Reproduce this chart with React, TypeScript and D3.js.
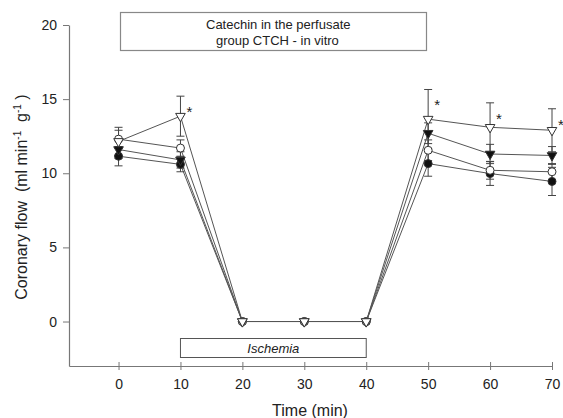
import { useEffect, useRef } from 'react';
import * as d3 from 'd3';

// time points (min)
const times = [0, 10, 20, 30, 40, 50, 60, 70];

// series values (ml min-1 g-1) and SEM
const openTri = [12.15, 13.85, 0, 0, 0, 13.65, 13.1, 12.9];
const openTriErr = [0.95, 1.35, 0, 0, 0, 2.0, 1.65, 1.45];
const filledTri = [11.6, 10.9, 0, 0, 0, 12.7, 11.3, 11.2];
const filledTriErr = [0.6, 0.55, 0, 0, 0, 0.7, 0.65, 0.6];
const openCirc = [12.3, 11.7, 0, 0, 0, 11.55, 10.2, 10.1];
const openCircErr = [0.6, 0.55, 0, 0, 0, 0.7, 0.6, 0.55];
const filledCirc = [11.15, 10.6, 0, 0, 0, 10.65, 9.98, 9.45];
const filledCircErr = [0.65, 0.5, 0, 0, 0, 0.85, 0.8, 0.95];

// asterisks over open triangle series (indices into times)
const starIdx = [1, 5, 6, 7];

const yTicks = [0, 5, 10, 15, 20];
const xTicks = [0, 10, 20, 30, 40, 50, 60, 70];

type Marker = 'triOpen' | 'triFilled' | 'circOpen' | 'circFilled';

const series: { values: number[]; err: number[]; marker: Marker }[] = [
  { values: filledCirc, err: filledCircErr, marker: 'circFilled' },
  { values: openCirc, err: openCircErr, marker: 'circOpen' },
  { values: filledTri, err: filledTriErr, marker: 'triFilled' },
  { values: openTri, err: openTriErr, marker: 'triOpen' },
];

const App = () => {
  const chartRef = useRef<SVGSVGElement | null>(null);

  useEffect(() => {
    if (!chartRef.current) return;
    const svg = d3.select(chartRef.current);
    svg.selectAll('*').remove();

    const font = 'Arial, "Liberation Sans", sans-serif';
    const axisColor = '#777';
    const textColor = '#222';

    const x = d3.scaleLinear().domain([-8, 70]).range([69, 552]);
    const y = d3.scaleLinear().domain([-3, 20]).range([366, 25]);

    // title box
    svg.append('rect')
      .attr('x', 120.5).attr('y', 12.5).attr('width', 306).attr('height', 38)
      .attr('fill', 'white').attr('stroke', '#888').attr('stroke-width', 1.2);
    svg.append('text')
      .attr('x', 206).attr('y', 29)
      .style('font-family', font).style('font-size', '13px').attr('fill', textColor)
      .text('Catechin in the perfusate');
    svg.append('text')
      .attr('x', 216).attr('y', 45)
      .style('font-family', font).style('font-size', '13px').attr('fill', textColor)
      .text('group CTCH - in vitro');

    // ischemia box
    svg.append('rect')
      .attr('x', x(10)).attr('y', 338.5)
      .attr('width', x(40) - x(10)).attr('height', 19)
      .attr('fill', 'white').attr('stroke', '#555').attr('stroke-width', 1);
    svg.append('text')
      .attr('x', (x(10) + x(40)) / 2).attr('y', 353)
      .attr('text-anchor', 'middle')
      .style('font-family', font).style('font-size', '13px').style('font-style', 'italic')
      .attr('fill', textColor)
      .text('Ischemia');

    // y axis
    const yAxis = svg.append('g')
      .attr('transform', 'translate(69,0)')
      .call(d3.axisLeft(y).tickValues(yTicks).tickSize(6).tickSizeOuter(0).tickPadding(6));
    // x axis
    const xAxis = svg.append('g')
      .attr('transform', 'translate(0,366)')
      .call(d3.axisBottom(x).tickValues(xTicks).tickSizeOuter(0).tickPadding(7));
    xAxis.selectAll('.tick line').attr('y1', -4).attr('y2', 4);
    [yAxis, xAxis].forEach(g => {
      g.select('.domain').attr('stroke', axisColor).attr('stroke-width', 1.2);
      g.selectAll('.tick line').attr('stroke', axisColor);
      g.selectAll('text')
        .style('font-family', font).style('font-size', '14px').attr('fill', textColor);
    });

    // axis titles
    svg.append('text')
      .attr('x', 310).attr('y', 416)
      .attr('text-anchor', 'middle')
      .style('font-family', font).style('font-size', '16px').attr('fill', textColor)
      .text('Time (min)');

    const yt = svg.append('text')
      .attr('transform', 'translate(27,197) rotate(-90)')
      .attr('text-anchor', 'middle')
      .style('font-family', font).style('font-size', '16px').attr('fill', textColor)
      .attr('xml:space', 'preserve');
    yt.append('tspan').text('Coronary flow  (ml min');
    yt.append('tspan').attr('dy', -6).style('font-size', '10px').text('-1');
    yt.append('tspan').attr('dy', 6).text('\u00a0\u00a0g');
    yt.append('tspan').attr('dy', -6).style('font-size', '10px').text('-1');
    yt.append('tspan').attr('dy', 6).text('\u00a0)');

    const line = d3.line<number>()
      .x((_, i) => x(times[i]))
      .y(d => y(d));

    // lines
    series.forEach(s => {
      svg.append('path')
        .datum(s.values)
        .attr('d', line)
        .attr('fill', 'none')
        .attr('stroke', '#555')
        .attr('stroke-width', 1);
    });

    // error bars
    series.forEach(s => {
      s.values.forEach((v, i) => {
        const e = s.err[i];
        if (!e) return;
        const cx = x(times[i]);
        const g = svg.append('g').attr('stroke', '#444').attr('stroke-width', 1);
        g.append('line').attr('x1', cx).attr('x2', cx).attr('y1', y(v - e)).attr('y2', y(v + e));
        g.append('line').attr('x1', cx - 4).attr('x2', cx + 4).attr('y1', y(v - e)).attr('y2', y(v - e));
        g.append('line').attr('x1', cx - 4).attr('x2', cx + 4).attr('y1', y(v + e)).attr('y2', y(v + e));
      });
    });

    // markers
    const tri = d3.symbol().type(d3.symbolTriangle).size(40)();
    series.forEach(s => {
      s.values.forEach((v, i) => {
        const cx = x(times[i]);
        const cy = y(v);
        if (s.marker === 'circOpen' || s.marker === 'circFilled') {
          svg.append('circle')
            .attr('cx', cx).attr('cy', cy).attr('r', 4)
            .attr('fill', s.marker === 'circFilled' ? '#111' : 'white')
            .attr('stroke', '#333').attr('stroke-width', 1);
        } else {
          svg.append('path')
            .attr('d', tri)
            .attr('transform', `translate(${cx},${cy}) rotate(180)`)
            .attr('fill', s.marker === 'triFilled' ? '#111' : 'white')
            .attr('stroke', '#333').attr('stroke-width', 1);
        }
      });
    });

    // significance asterisks
    starIdx.forEach(i => {
      const top = openTri[i] + openTriErr[i];
      svg.append('text')
        .attr('x', x(times[i]) + 6).attr('y', y(top) + 21)
        .style('font-family', font).style('font-size', '15px').attr('fill', textColor)
        .text('*');
    });
  }, []);

  return (
    <div style={{ position: 'fixed', left: 0, top: 0, width: 563, height: 418, background: 'white' }}>
      <svg ref={chartRef} width={563} height={418}></svg>
    </div>
  );
};

export default App;
